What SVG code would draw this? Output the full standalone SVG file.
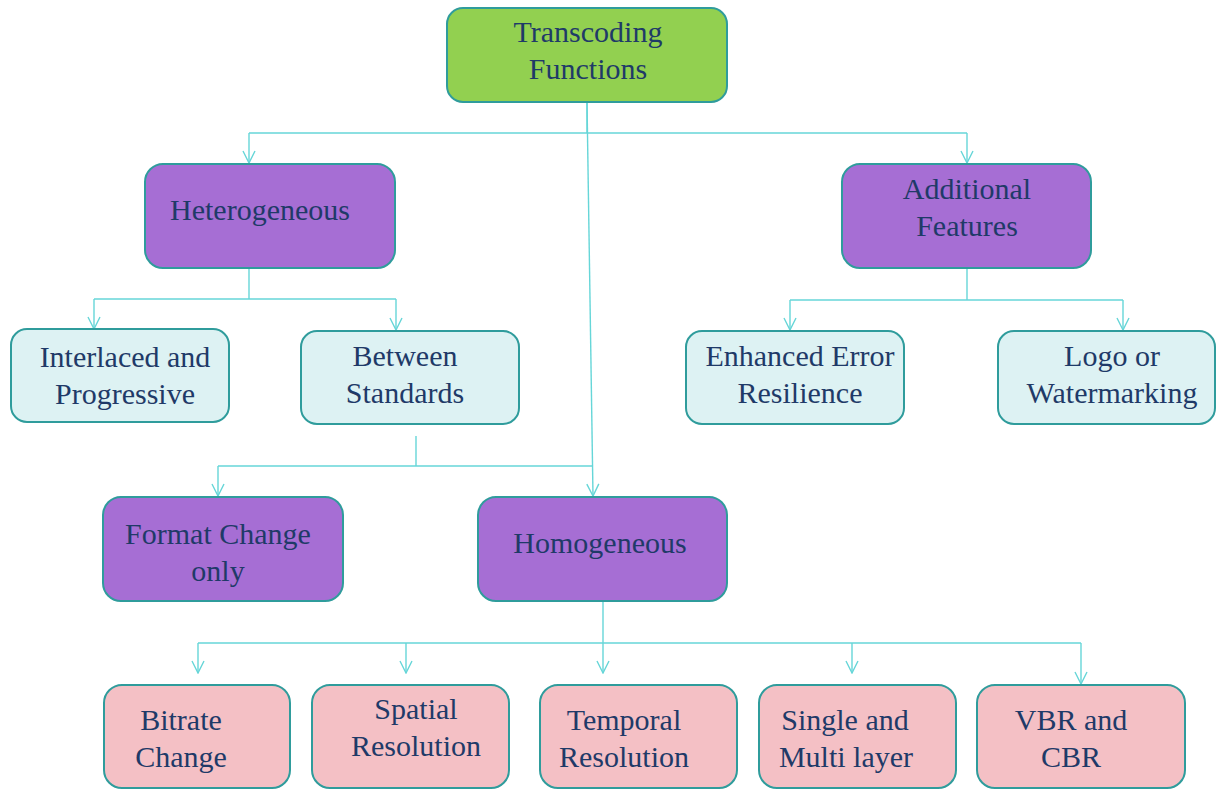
<svg xmlns="http://www.w3.org/2000/svg" width="1216" height="789" viewBox="0 0 1216 789">
  <style>
    .box { stroke: #2F9C9C; stroke-width: 2; }
    .root { fill: #92D050; }
    .cat { fill: #A66ED4; }
    .sub { fill: #DDF2F3; }
    .leaf { fill: #F4C0C5; }
    .lbl { font-family: 'Liberation Serif', 'DejaVu Serif', serif; font-size: 30px; fill: #1F3A68; text-anchor: middle; }
    .wire { fill: none; stroke: #66D6D8; stroke-width: 1.4; }
  </style>
  <defs>
    <marker id="arrow" markerUnits="userSpaceOnUse" viewBox="0 0 14 14" refX="13" refY="7" markerWidth="14" markerHeight="14" orient="auto">
      <path d="M1,1 L13,7 L1,13" fill="none" stroke="#66D6D8" stroke-width="1.4"/>
    </marker>
  </defs>

  <rect width="1216" height="789" fill="#FFFFFF"/>

  <!-- connectors -->
  <g id="connectors">
    <!-- root to the two upper branches -->
    <path class="wire" d="M587,102 V133"/>
    <path class="wire" d="M249,133 H967"/>
    <path class="wire" d="M249,133 V163" marker-end="url(#arrow)"/>
    <path class="wire" d="M967,133 V163" marker-end="url(#arrow)"/>
    <!-- root straight down to Homogeneous -->
    <path class="wire" d="M587,102 L593,496" marker-end="url(#arrow)"/>
    <!-- Heterogeneous children -->
    <path class="wire" d="M249,268 V299"/>
    <path class="wire" d="M94,299 H396"/>
    <path class="wire" d="M94,299 V329" marker-end="url(#arrow)"/>
    <path class="wire" d="M396,299 V330" marker-end="url(#arrow)"/>
    <!-- Between Standards to Format Change only -->
    <path class="wire" d="M416,436 V466"/>
    <path class="wire" d="M218,466 H593"/>
    <path class="wire" d="M218,466 V496" marker-end="url(#arrow)"/>
    <!-- Additional Features children -->
    <path class="wire" d="M967,268 V300"/>
    <path class="wire" d="M790,300 H1123"/>
    <path class="wire" d="M790,300 V330" marker-end="url(#arrow)"/>
    <path class="wire" d="M1123,300 V330" marker-end="url(#arrow)"/>
    <!-- Homogeneous children -->
    <path class="wire" d="M603,601 V673" marker-end="url(#arrow)"/>
    <path class="wire" d="M198,643 H1081"/>
    <path class="wire" d="M198,643 V673" marker-end="url(#arrow)"/>
    <path class="wire" d="M406,643 V673" marker-end="url(#arrow)"/>
    <path class="wire" d="M852,643 V673" marker-end="url(#arrow)"/>
    <path class="wire" d="M1081,643 V684" marker-end="url(#arrow)"/>
  </g>

  <g id="transcoding-functions">
    <rect class="box root" x="447" y="8" width="280" height="94" rx="16"/>
    <text class="lbl" x="588" y="42">Transcoding</text>
    <text class="lbl" x="588" y="79">Functions</text>
  </g>

  <g id="heterogeneous">
    <rect class="box cat" x="145" y="164" width="250" height="104" rx="18"/>
    <text class="lbl" x="260" y="220">Heterogeneous</text>
  </g>

  <g id="additional-features">
    <rect class="box cat" x="842" y="164" width="249" height="104" rx="18"/>
    <text class="lbl" x="967" y="199">Additional</text>
    <text class="lbl" x="967" y="236">Features</text>
  </g>

  <g id="interlaced-progressive">
    <rect class="box sub" x="11" y="329" width="218" height="93" rx="16"/>
    <text class="lbl" x="125" y="367">Interlaced and</text>
    <text class="lbl" x="125" y="404">Progressive</text>
  </g>

  <g id="between-standards">
    <rect class="box sub" x="301" y="331" width="218" height="93" rx="16"/>
    <text class="lbl" x="405" y="366">Between</text>
    <text class="lbl" x="405" y="403">Standards</text>
  </g>

  <g id="enhanced-error-resilience">
    <rect class="box sub" x="686" y="331" width="218" height="93" rx="16"/>
    <text class="lbl" x="800" y="366">Enhanced Error</text>
    <text class="lbl" x="800" y="403">Resilience</text>
  </g>

  <g id="logo-watermarking">
    <rect class="box sub" x="998" y="331" width="217" height="93" rx="16"/>
    <text class="lbl" x="1112" y="366">Logo or</text>
    <text class="lbl" x="1112" y="403">Watermarking</text>
  </g>

  <g id="format-change-only">
    <rect class="box cat" x="103" y="497" width="240" height="104" rx="18"/>
    <text class="lbl" x="218" y="544">Format Change</text>
    <text class="lbl" x="218" y="581">only</text>
  </g>

  <g id="homogeneous">
    <rect class="box cat" x="478" y="497" width="249" height="104" rx="18"/>
    <text class="lbl" x="600" y="553">Homogeneous</text>
  </g>

  <g id="bitrate-change">
    <rect class="box leaf" x="104" y="685" width="186" height="103" rx="18"/>
    <text class="lbl" x="181" y="730">Bitrate</text>
    <text class="lbl" x="181" y="767">Change</text>
  </g>

  <g id="spatial-resolution">
    <rect class="box leaf" x="312" y="685" width="197" height="103" rx="18"/>
    <text class="lbl" x="416" y="719">Spatial</text>
    <text class="lbl" x="416" y="756">Resolution</text>
  </g>

  <g id="temporal-resolution">
    <rect class="box leaf" x="540" y="685" width="197" height="103" rx="18"/>
    <text class="lbl" x="624" y="730">Temporal</text>
    <text class="lbl" x="624" y="767">Resolution</text>
  </g>

  <g id="single-multi-layer">
    <rect class="box leaf" x="759" y="685" width="197" height="103" rx="18"/>
    <text class="lbl" x="845" y="730">Single and</text>
    <text class="lbl" x="846" y="767">Multi layer</text>
  </g>

  <g id="vbr-cbr">
    <rect class="box leaf" x="977" y="685" width="208" height="103" rx="18"/>
    <text class="lbl" x="1071" y="730">VBR and</text>
    <text class="lbl" x="1071" y="767">CBR</text>
  </g>
</svg>
